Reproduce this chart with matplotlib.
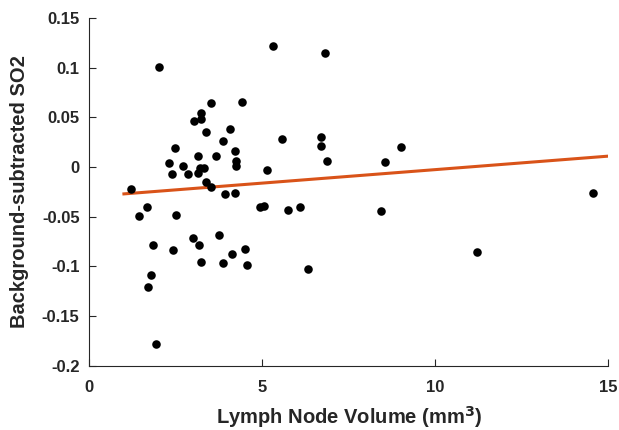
import numpy as np
import matplotlib
matplotlib.use("Agg")
import matplotlib.pyplot as plt

plt.rcParams['font.family'] = ['Liberation Sans', 'DejaVu Sans']
plt.rcParams['font.weight'] = 'bold'

# lymph node volume (mm^3) and background-subtracted SO2
volume = [2.02, 5.31, 3.52, 4.42, 3.23, 3.23, 3.02, 3.38, 4.06, 5.57,
          2.49, 3.86, 4.22, 3.15, 3.67, 2.31, 2.71, 4.25, 4.25, 3.19,
          3.32, 2.38, 2.84, 3.15, 5.14, 1.21, 3.36, 3.51,
          6.80, 6.70, 6.70, 6.87, 9.00, 8.55,
          3.92, 4.22, 1.44, 1.68, 2.51, 4.92, 5.04, 5.75, 1.83, 2.42,
          3.00, 3.16, 3.74, 3.23, 3.86, 4.12, 4.51, 4.55, 1.79, 1.71,
          1.94, 6.10, 8.42, 6.32, 14.55, 11.20]
so2 = [0.101, 0.122, 0.064, 0.065, 0.054, 0.048, 0.046, 0.035, 0.038, 0.028,
       0.019, 0.026, 0.016, 0.011, 0.011, 0.004, 0.001, 0.006, 0.001, -0.001,
       -0.001, -0.007, -0.007, -0.006, -0.003, -0.022, -0.015, -0.020,
       0.115, 0.030, 0.021, 0.006, 0.020, 0.005,
       -0.027, -0.026, -0.049, -0.040, -0.048, -0.040, -0.039, -0.043, -0.078, -0.083,
       -0.071, -0.078, -0.068, -0.096, -0.097, -0.087, -0.082, -0.099, -0.109, -0.121,
       -0.178, -0.040, -0.044, -0.103, -0.026, -0.085]

# linear fit line end points
fit_x = [1.0, 15.0]
fit_y = [-0.027, 0.011]

fig = plt.figure(figsize=(6.19, 4.30), dpi=100)
ax = fig.add_axes([0.1443, 0.1493, 0.8384, 0.8088])

ax.scatter(volume, so2, s=38, c='black', zorder=3, linewidths=0)
ax.plot(fit_x, fit_y, color='#D95319', lw=2.2, zorder=2)

ax.set_xlim(0, 15)
ax.set_ylim(-0.2, 0.15)
ax.set_xticks([0, 5, 10, 15])
ax.set_xticklabels(['0', '5', '10', '15'])
ax.set_yticks([-0.2, -0.15, -0.1, -0.05, 0, 0.05, 0.1, 0.15])
ax.set_yticklabels(['-0.2', '-0.15', '-0.1', '-0.05', '0', '0.05', '0.1', '0.15'])

for side in ('top', 'right'):
    ax.spines[side].set_visible(False)
for side in ('left', 'bottom'):
    ax.spines[side].set_color('#262626')
    ax.spines[side].set_linewidth(0.8)
ax.tick_params(direction='in', length=5, width=0.8, colors='#262626',
               labelsize=12)
ax.tick_params(axis='x', pad=10)
ax.tick_params(axis='y', pad=7)

ax.set_xlabel('Lymph Node Volume (mm$^\\mathbf{3}$)', fontsize=14.5,
              fontweight='bold', color='#262626', labelpad=7)
ax.set_ylabel('Background-subtracted SO2', fontsize=14.5,
              fontweight='bold', color='#262626', labelpad=9)

fig.savefig('out.png', dpi=100)
